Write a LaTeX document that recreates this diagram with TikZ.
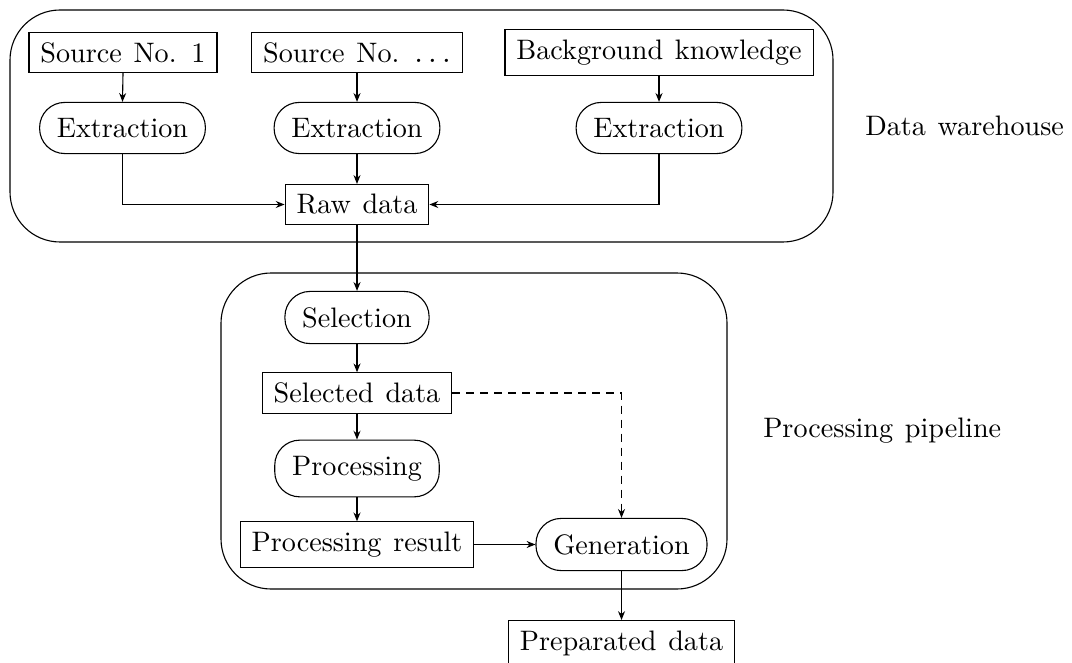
\documentclass[tikz,border=0pt]{standalone}
\usepackage{fontspec}
\setmainfont{lmroman10-regular.otf}[WordSpace=1.25]
\usetikzlibrary{arrows.meta}
\def\pxu{0.2716pt}
\tikzset{
  every node/.style={font=\fontsize{7.65}{9}\selectfont},
  databox/.style={draw, rectangle, inner xsep=3.1pt, inner ysep=2.7pt, line width=0.3pt},
  procbox/.style={draw, rectangle, rounded corners=6.8pt, inner xsep=4.7pt, inner ysep=4.3pt, line width=0.3pt},
  container/.style={draw, rectangle, rounded corners=13.6pt, line width=0.3pt},
  arr/.style={-{Stealth[length=2.4pt,width=1.9pt]}, line width=0.3pt},
  dasharr/.style={arr, dash pattern=on 2.2pt off 1.6pt},
  boxlabel/.style={anchor=west, inner sep=0pt}
}
\begin{document}
\begin{tikzpicture}[x=\pxu, y=-\pxu]
\useasboundingbox (0,0) rectangle (1072,662);
\clip (0,0) rectangle (1072,662);
% containers
\node[container, minimum width=823*\pxu, minimum height=232*\pxu] (wh) at (421.5,126) {};
\node[container, minimum width=506*\pxu, minimum height=316*\pxu] (pipe) at (474,431) {};
\node[boxlabel] (whl) at ([xshift=31*\pxu]wh.east) {Data warehouse};
\node[boxlabel] (pipel) at ([xshift=35*\pxu]pipe.east) {Processing pipeline};
% warehouse
\node[databox] (s1) at (123,52.5) {Source No. 1};
\node[databox] (s2) at (357,52.5) {Source No. $\ldots$};
\node[databox] (bk) at (659,52.5) {Background knowledge};
\node[procbox] (e1) at (122.5,128) {Extraction};
\node[procbox] (e2) at (357,128) {Extraction};
\node[procbox] (e3) at (659,128) {Extraction};
\node[databox] (raw) at (357,204.5) {Raw data};
% pipeline
\node[procbox] (sel) at (357,317.5) {Selection};
\node[databox] (seld) at (357,393) {Selected data};
\node[procbox] (proc) at (357,468.5) {Processing};
\node[databox] (res) at (357,544.5) {Processing result};
\node[procbox] (gen) at (621.5,544.5) {Generation};
\node[databox, anchor=north] (prep) at (621.5,620) {Preparated data};
% connectors
\draw[arr] (s1.south) -- (e1.north);
\draw[arr] (s2.south) -- (e2.north);
\draw[arr] (bk.south) -- (e3.north);
\draw[arr] (e2.south) -- (raw.north);
\draw[arr] (e1.south) |- (raw.west);
\draw[arr] (e3.south) |- (raw.east);
\draw[arr] (raw.south) -- (sel.north);
\draw[arr] (sel.south) -- (seld.north);
\draw[arr] (seld.south) -- (proc.north);
\draw[arr] (proc.south) -- (res.north);
\draw[arr] (res.east) -- (gen.west);
\draw[dasharr] (seld.east) -| (gen.north);
\draw[arr] (gen.south) -- (prep.north);
\end{tikzpicture}
\end{document}
